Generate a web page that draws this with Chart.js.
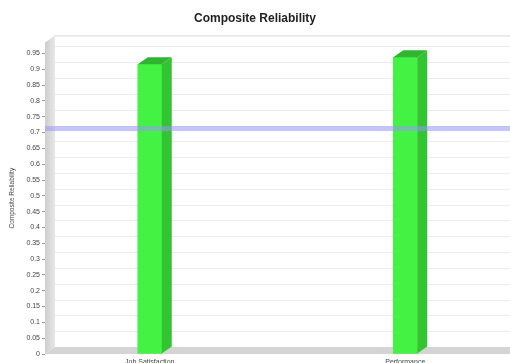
<!DOCTYPE html>
<html>
<head>
<meta charset="utf-8">
<script src="https://cdn.jsdelivr.net/npm/chart.js@4/dist/chart.umd.min.js"></script>
<style>
  html, body { margin: 0; padding: 0; background: #ffffff; overflow: hidden; }
  #wrap { width: 510px; height: 363px; }
</style>
</head>
<body>
<div id="wrap"><canvas id="c" width="510" height="363"></canvas></div>
<script>
// Constructs and their composite reliability scores
const categories = ['Job Satisfaction', 'Performance'];
const reliability = [0.916, 0.938];
// Recommended minimum threshold
const threshold = 0.7;
// Value axis range and step
const yMax = 0.985;
const yStep = 0.05;

// Depth of the pseudo-3D rendering (pixels right / up)
const DX = 10, DY = -7;

const depthPlugin = {
  id: 'depth3d',
  beforeDatasetsDraw(chart) {
    const { ctx, chartArea: a, scales: { y } } = chart;
    ctx.save();
    // back wall grid lines
    ctx.strokeStyle = '#ececec';
    ctx.lineWidth = 1;
    for (let v = 0; v <= 0.951; v += yStep) {
      const py = Math.round(y.getPixelForValue(v) + DY) + 0.5;
      ctx.beginPath();
      ctx.moveTo(a.left + DX, py);
      ctx.lineTo(a.right, py);
      ctx.stroke();
    }
    // back wall top edge
    ctx.strokeStyle = '#d6d6d6';
    ctx.beginPath();
    ctx.moveTo(a.left + DX, a.top + DY + 0.5);
    ctx.lineTo(a.right, a.top + DY + 0.5);
    ctx.stroke();
    // left wall
    const g = ctx.createLinearGradient(a.left, 0, a.left + DX, 0);
    g.addColorStop(0, '#cdcdcd');
    g.addColorStop(1, '#e8e8e8');
    ctx.fillStyle = g;
    ctx.beginPath();
    ctx.moveTo(a.left, a.top);
    ctx.lineTo(a.left + DX, a.top + DY);
    ctx.lineTo(a.left + DX, a.bottom + DY);
    ctx.lineTo(a.left, a.bottom);
    ctx.closePath();
    ctx.fill();
    // floor
    ctx.fillStyle = '#d4d4d4';
    ctx.beginPath();
    ctx.moveTo(a.left, a.bottom);
    ctx.lineTo(a.left + DX, a.bottom + DY);
    ctx.lineTo(a.right, a.bottom + DY);
    ctx.lineTo(a.right, a.bottom);
    ctx.closePath();
    ctx.fill();
    ctx.restore();
  },
  afterDatasetsDraw(chart) {
    const { ctx, chartArea: a, scales: { y } } = chart;
    const meta = chart.getDatasetMeta(0);
    ctx.save();
    meta.data.forEach(bar => {
      const { x, y: top, base, width } = bar.getProps(['x', 'y', 'base', 'width'], true);
      const l = x - width / 2, r = x + width / 2;
      // side face
      ctx.fillStyle = '#33c433';
      ctx.beginPath();
      ctx.moveTo(r, top);
      ctx.lineTo(r + DX, top + DY);
      ctx.lineTo(r + DX, base + DY);
      ctx.lineTo(r, base);
      ctx.closePath();
      ctx.fill();
      // top face
      ctx.fillStyle = '#2fb52f';
      ctx.beginPath();
      ctx.moveTo(l, top);
      ctx.lineTo(l + DX, top + DY);
      ctx.lineTo(r + DX, top + DY);
      ctx.lineTo(r, top);
      ctx.closePath();
      ctx.fill();
    });
    // threshold marker
    const ty = y.getPixelForValue(threshold) - 4;
    ctx.fillStyle = 'rgba(150,150,250,0.55)';
    ctx.fillRect(a.left, ty - 2.5, a.right - a.left, 5);
    ctx.restore();
  }
};

new Chart(document.getElementById('c'), {
  type: 'bar',
  data: {
    datasets: [{
      data: reliability.map((v, i) => ({ x: i, y: v })),
      backgroundColor: '#44f244',
      borderWidth: 0,
      barThickness: 24
    }]
  },
  options: {
    responsive: false,
    animation: false,
    layout: { padding: { left: 0, right: 0, top: 0, bottom: 0 } },
    plugins: {
      legend: { display: false },
      tooltip: { enabled: false },
      title: {
        display: true,
        text: 'Composite Reliability',
        color: '#222222',
        font: { family: 'Liberation Sans, Arial, sans-serif', size: 12, weight: 'bold' },
        padding: { top: 11, bottom: 17 }
      }
    },
    scales: {
      x: {
        type: 'linear',
        offset: false,
        min: -0.41,
        max: 1.41,
        afterBuildTicks(scale) {
          scale.ticks = categories.map((_, i) => ({ value: i }));
        },
        afterFit(scale) { scale.height = 9; },
        ticks: {
          callback: v => categories[v] ?? '',
          color: '#444444',
          font: { family: 'Liberation Sans, Arial, sans-serif', size: 7 },
          padding: 4,
          maxRotation: 0,
          autoSkip: false
        },
        grid: { display: false, drawTicks: false, tickLength: 0, offset: false },
        border: { display: false }
      },
      y: {
        min: 0,
        max: yMax,
        afterFit(scale) { scale.width = 45; },
        ticks: {
          stepSize: yStep,
          includeBounds: false,
          callback: v => String(parseFloat(v.toFixed(2))),
          color: '#444444',
          font: { family: 'Liberation Sans, Arial, sans-serif', size: 7 },
          padding: 2
        },
        grid: {
          drawOnChartArea: false,
          drawTicks: true,
          tickLength: 3,
          color: '#999999'
        },
        border: { display: false },
        title: {
          display: true,
          text: 'Composite Reliability',
          color: '#444444',
          font: { family: 'Liberation Sans, Arial, sans-serif', size: 6.5 },
          padding: { top: 8, bottom: 0 }
        }
      }
    }
  },
  plugins: [depthPlugin]
});
</script>
</body>
</html>
